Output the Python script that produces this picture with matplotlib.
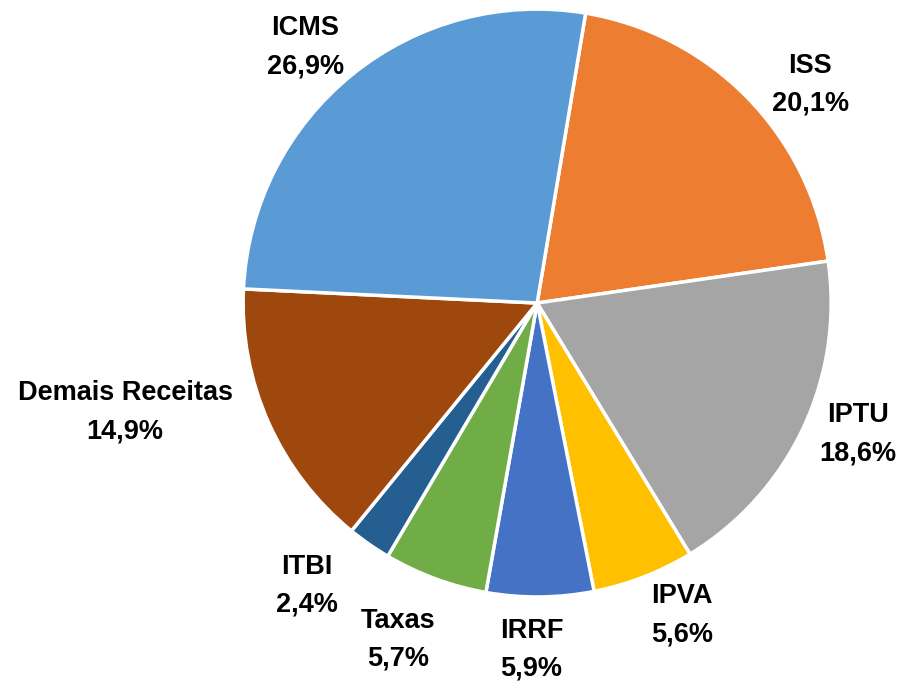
import matplotlib.pyplot as plt
import numpy as np

LABELS = ["ISS", "IPTU", "IPVA", "IRRF", "Taxas", "ITBI", "Demais Receitas", "ICMS"]
SHARES = [20.1, 18.6, 5.6, 5.9, 5.7, 2.4, 14.9, 26.9]
COLORS = ["#ED7D31", "#A5A5A5", "#FFC000", "#4472C4", "#70AD47", "#255E91", "#9E480E", "#5B9BD5"]

# label placement: radial distance (in radii) and angular nudge (deg) per slice
LABEL_DIST = [1.19, 1.18, 1.17, 1.18, 1.24, 1.24, 1.45, 1.175]
LABEL_NUDGE = [-5.7, 3.0, 3.6, -1.5, -2.2, -4.3, -9.2, 3.3]

START_ANGLE = 80.5

fig = plt.figure(figsize=(9.02, 6.86), dpi=100)
ax = fig.add_axes([0, 0, 1, 1])

wedges, _ = ax.pie(
    SHARES,
    colors=COLORS,
    startangle=START_ANGLE,
    counterclock=False,
    radius=1.0,
    wedgeprops=dict(edgecolor="white", linewidth=2.5),
)

for w, name, share, dist, nudge in zip(wedges, LABELS, SHARES, LABEL_DIST, LABEL_NUDGE):
    mid = np.deg2rad((w.theta1 + w.theta2) / 2 + nudge)
    ax.text(
        dist * np.cos(mid),
        dist * np.sin(mid),
        f"{name}\n{share:.1f}%".replace(".", ","),
        ha="center",
        va="center",
        fontsize=19.5,
        fontweight="bold",
        family="Liberation Sans",
        linespacing=1.6,
    )

ax.set_xlim(-1.827, 1.241)
ax.set_ylim(-1.303, 1.031)
ax.set_aspect("auto")
ax.axis("off")

fig.savefig("out.png", dpi=100)
